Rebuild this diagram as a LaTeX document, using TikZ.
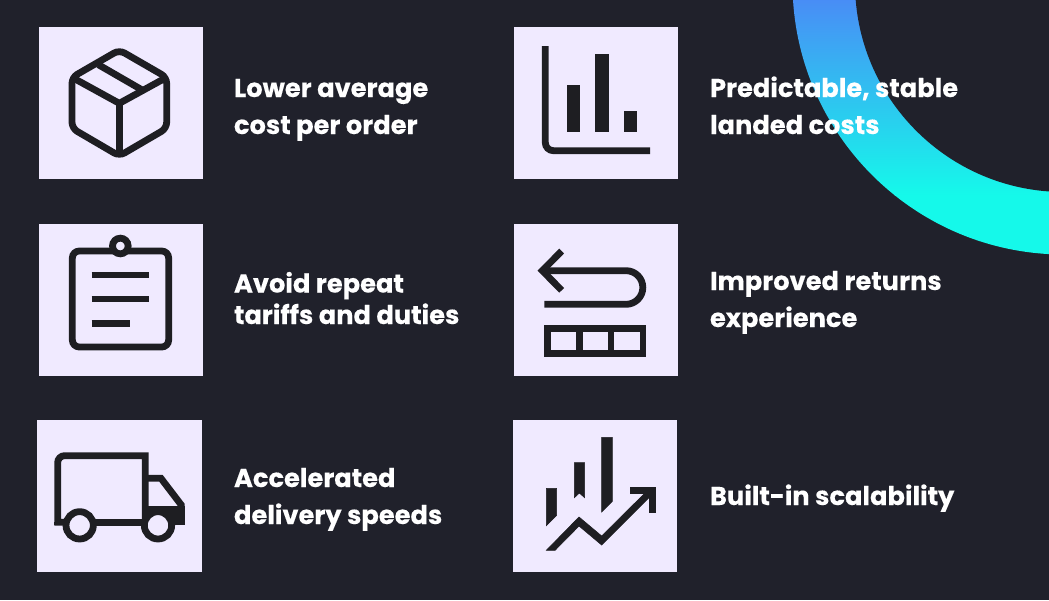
\documentclass[tikz,border=0pt]{standalone}
\usepackage{fontspec}
\setmainfont{Poppins}[BoldFeatures={FakeBold=0.25}]
\definecolor{bgdark}{HTML}{20212B}
\definecolor{boxlilac}{HTML}{F0EAFF}
\definecolor{iconblack}{HTML}{1E1E22}
\definecolor{arcblue}{HTML}{4A8AF6}
\definecolor{arccyan}{HTML}{15F9EA}
\tikzset{
  x=1pt,y=-1pt,
  tilebox/.style={fill=boxlilac,draw=none},
  iconline/.style={draw=iconblack,line width=#1,line cap=butt,line join=miter,miter limit=10},
  iconline/.default=6.8pt,
  iconfill/.style={fill=iconblack,draw=iconblack,line width=0.6pt},
  zoomed/.style={x=0.33333pt,y=-0.33333pt},
  caption/.style={anchor=base west,text=white,font=\fontsize{25.7}{30}\selectfont\bfseries,inner sep=0pt,outer sep=0pt}
}
\begin{document}
\begin{tikzpicture}
\useasboundingbox (0,0) rectangle (1049,600);
\fill[bgdark] (0,0) rectangle (1049,600);
% arc
\begin{scope}
  \clip (0,0) rectangle (1049,600);
  \begin{scope}
    \clip (1064,-17) circle[radius=271.5pt];
    \shade[top color=arcblue,bottom color=arccyan] (780,-6) rectangle (1049,195);
    \fill[arccyan] (780,195) rectangle (1049,260);
  \end{scope}
  \fill[bgdark] (1064,-17) circle[radius=209pt];
\end{scope}
% boxes
\fill[tilebox] (38.5,27.3) rectangle (202.7,179.3);
\fill[tilebox] (514.3,27.3) rectangle (678.3,179.3);
\fill[tilebox] (38.5,224) rectangle (202.7,376);
\fill[tilebox] (514.3,224) rectangle (678.3,376);
\fill[tilebox] (37.3,420.3) rectangle (201.7,572.3);
\fill[tilebox] (513.3,420.3) rectangle (677.3,572.3);
% cube
\begin{scope}[shift={(30,20)},zoomed]
  \draw[iconline,rounded corners=6pt] (268,90) -- (410,172) -- (410,325) -- (268,408) -- (126,325) -- (126,172) -- cycle;
  \draw[iconline,line join=round] (126,172) -- (268,250) -- (410,172);
  \draw[iconline] (268,250) -- (268,405);
  \draw[iconline] (205,134) -- (340,212);
\end{scope}
% bars
\begin{scope}[shift={(505,20)},zoomed]
  \draw[iconline,rounded corners=8pt] (121,78) -- (121,392) -- (435,392);
  \fill[iconfill] (186,197) rectangle (224,335);
  \fill[iconfill] (271,102) rectangle (309,335);
  \fill[iconfill] (357,273) rectangle (395,335);
\end{scope}
% clipboard
\begin{scope}[shift={(30,215)},zoomed]
  \draw[iconline,rounded corners=7pt] (127,108) rectangle (416,396);
  \draw[iconline,fill=boxlilac] (271,93) circle[radius=23.5pt/3];
  \draw[iconline] (185,180) -- (358,180);
  \draw[iconline] (185,252) -- (358,252);
  \draw[iconline] (185,325) -- (301,325);
\end{scope}
% returns
\begin{scope}[shift={(505,215)},zoomed]
  \draw[iconline] (170,108) -- (112,167) -- (170,226);
  \draw[iconline] (112,167) -- (363,167) arc[start angle=90,end angle=-90,radius=50.5pt/3] -- (118,268);
  \draw[iconline=6.4pt] (127,340) rectangle (414,416);
  \draw[iconline=6.4pt] (223,340) -- (223,416);
  \draw[iconline=6.4pt] (318,340) -- (318,416);
\end{scope}
% truck
\begin{scope}[shift={(30,412)},zoomed]
  \draw[iconline] (110,331) -- (83,331) [rounded corners=7pt] -- (83,131) [sharp corners] -- (346,131) -- (346,331);
  \fill[iconblack] (73,331) rectangle (92,340);
  \draw[iconline] (110,331) -- (360,331);
  \draw[iconline] (346,199) -- (393,199) -- (454,279) -- (454,320);
  \fill[iconblack] (337,283) -- (464,283) -- (464,340) -- (337,340) -- cycle;
  \draw[iconline,fill=boxlilac] (149,340) circle[radius=41pt/3];
  \draw[iconline,fill=boxlilac] (384,340) circle[radius=41pt/3];
\end{scope}
% growth
\begin{scope}[shift={(505,412)},zoomed]
  \fill[iconfill] (124,229) -- (155,229) -- (155,310) -- (124,341) -- cycle;
  \fill[iconfill] (208,152) -- (239,152) -- (239,257) -- (223,243) -- (208,257) -- cycle;
  \fill[iconfill] (290,76) -- (322,76) -- (322,268) -- (290,300) -- cycle;
  \fill[iconfill] (124,415) -- (222,315) -- (290,372) -- (425,238) -- (438,251) -- (290,399) -- (222,342) -- (150,415) -- cycle;
  \fill[iconfill] (375,226) -- (451,226) -- (451,302) -- (432,302) -- (432,245) -- (375,245) -- cycle;
\end{scope}
% captions
\node[caption] (t1a) at (234,97) {Lower average};
\node[caption] (t1b) at (234,134) {cost per order};
\node[caption] (t2a) at (710,97) {Predictable, stable};
\node[caption] (t2b) at (710,134) {landed costs};
\node[caption] (t3a) at (234,292.5) {Avoid repeat};
\node[caption] (t3b) at (234,324) {tariffs and duties};
\node[caption] (t4a) at (710,290) {Improved returns};
\node[caption] (t4b) at (710,327) {experience};
\node[caption] (t5a) at (234,487) {Accelerated};
\node[caption] (t5b) at (234,524) {delivery speeds};
\node[caption] (t6a) at (710,505) {Built-in scalability};
\end{tikzpicture}
\end{document}
